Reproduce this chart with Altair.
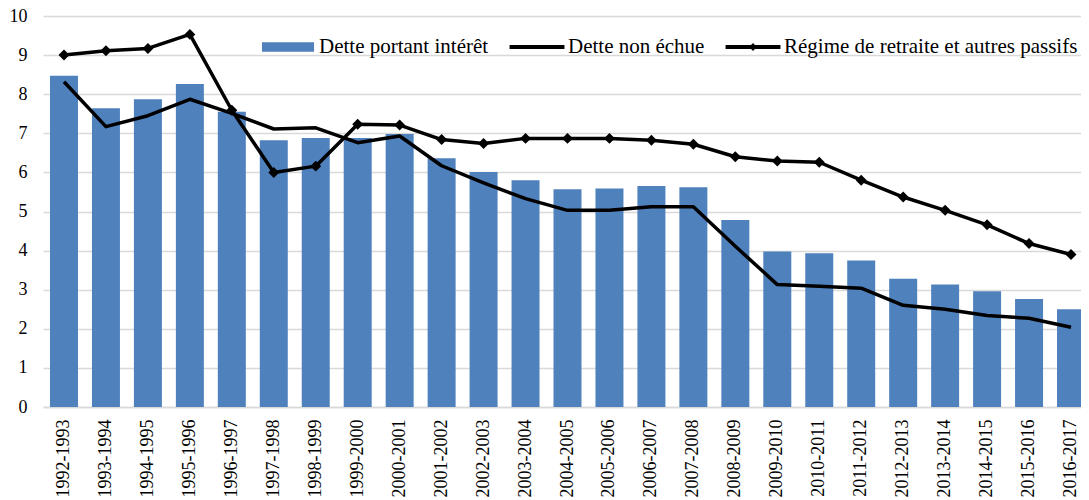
import altair as alt
import pandas as pd

periods = [
    "1992-1993", "1993-1994", "1994-1995", "1995-1996", "1996-1997",
    "1997-1998", "1998-1999", "1999-2000", "2000-2001", "2001-2002",
    "2002-2003", "2003-2004", "2004-2005", "2005-2006", "2006-2007",
    "2007-2008", "2008-2009", "2009-2010", "2010-2011", "2011-2012",
    "2012-2013", "2013-2014", "2014-2015", "2015-2016", "2016-2017",
]
interest_bearing = [8.47, 7.64, 7.87, 8.26, 7.55, 6.82, 6.88, 6.88, 6.98, 6.36,
                    6.01, 5.80, 5.57, 5.59, 5.65, 5.62, 4.78, 3.98, 3.93, 3.75,
                    3.28, 3.13, 2.96, 2.76, 2.50]
non_matured = [8.32, 7.17, 7.45, 7.87, 7.51, 7.11, 7.14, 6.76, 6.93, 6.17,
               5.73, 5.33, 5.03, 5.03, 5.12, 5.12, 4.11, 3.13, 3.09, 3.04,
               2.60, 2.50, 2.34, 2.27, 2.04]
pension = [9.00, 9.11, 9.17, 9.53, 7.59, 6.00, 6.16, 7.23, 7.21, 6.84,
           6.74, 6.87, 6.87, 6.87, 6.82, 6.72, 6.40, 6.29, 6.26, 5.80,
           5.37, 5.03, 4.66, 4.18, 3.90]

SERIES = ["Dette portant intérêt", "Dette non échue",
          "Régime de retraite et autres passifs"]
COLORS = ["#4f81bd", "#000000", "#000000"]

# legend symbol shapes (unit paths scaled by the legend symbol size)
PATH_BAR = "M-0.93,-0.17L0.93,-0.17L0.93,0.17L-0.93,0.17Z"
PATH_LINE = "M-0.98,-0.07L0.98,-0.07L0.98,0.07L-0.98,0.07Z"
PATH_LINE_DIAMOND = ("M-0.98,-0.07L0.98,-0.07L0.98,0.07L-0.98,0.07Z"
                     "M0,-0.14L0.14,0L0,0.14L-0.14,0Z")

rows = []
for i, p in enumerate(periods):
    rows.append({"period": p, "series": SERIES[0], "value": interest_bearing[i]})
    rows.append({"period": p, "series": SERIES[1], "value": non_matured[i]})
    rows.append({"period": p, "series": SERIES[2], "value": pension[i]})
df = pd.DataFrame(rows)

FONT = "Times New Roman, Liberation Serif, serif"

x = alt.X(
    "period:N", sort=periods, title=None,
    scale=alt.Scale(paddingInner=0.333, paddingOuter=0.1667),
    axis=alt.Axis(labelAngle=270, ticks=False, grid=False, domain=True,
                  domainColor="#d9d9d9", domainWidth=1.5, labelPadding=12,
                  labelFont=FONT, labelFontSize=18, labelColor="black"),
)
y = alt.Y(
    "value:Q", title=None,
    scale=alt.Scale(domain=[0, 10], nice=False, zero=True),
    axis=alt.Axis(values=list(range(11)), ticks=False, domain=False, grid=True,
                  gridColor="#d9d9d9", gridWidth=1.3, labelPadding=16,
                  labelFont=FONT, labelFontSize=18, labelColor="black"),
)

color_scale = alt.Scale(domain=SERIES, range=COLORS)
shape_scale = alt.Scale(domain=SERIES,
                        range=[PATH_BAR, PATH_LINE, PATH_LINE_DIAMOND])
legend = alt.Legend(
    title=None, orient="none", legendX=217, legendY=3, direction="horizontal",
    columns=3, columnPadding=20, labelOffset=3, symbolSize=3136,
    symbolStrokeWidth=0, labelFont=FONT, labelFontSize=21, labelColor="black",
    padding=0, labelLimit=0,
)

base = alt.Chart(df)

bars = base.transform_filter(alt.datum.series == SERIES[0]).mark_bar(
    color=COLORS[0], opacity=1
).encode(x=x, y=y)
lines = base.transform_filter(alt.datum.series != SERIES[0]).mark_line(
    strokeWidth=3.5, strokeJoin="round", color="black", opacity=1
).encode(x=x, y=y, detail="series:N")
markers = base.transform_filter(alt.datum.series == SERIES[2]).mark_point(
    shape="diamond", filled=True, size=120, color="black", opacity=1
).encode(x=x, y=y)
legend_layer = base.transform_filter("false").mark_point(filled=True, opacity=1).encode(
    x=x, y=y,
    color=alt.Color("series:N", scale=color_scale, legend=legend),
    shape=alt.Shape("series:N", scale=shape_scale, legend=legend),
)

chart = alt.layer(bars, lines, markers, legend_layer).properties(
    width=1049, height=391,
    autosize=alt.AutoSizeParams(type="none"),
    padding={"left": 35, "top": 8, "right": -11, "bottom": 93},
).configure_view(stroke=None).configure_axis(
    labelFont=FONT, labelFontSize=18, labelColor="black"
)

chart.save("out.html", embed_options={"renderer": "svg", "actions": False})
